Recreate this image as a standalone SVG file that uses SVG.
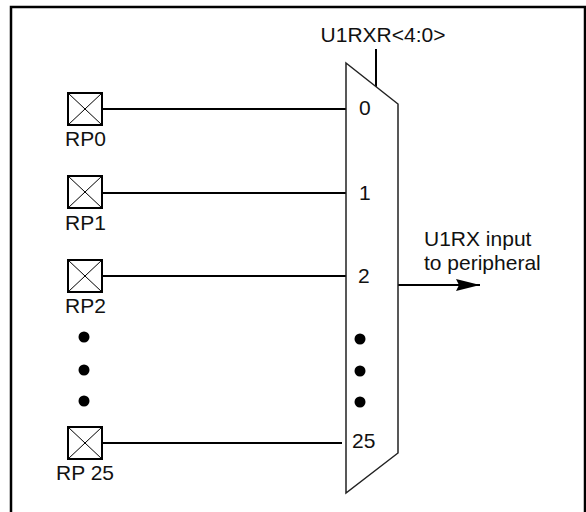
<svg xmlns="http://www.w3.org/2000/svg" width="586" height="512" viewBox="0 0 586 512">
  <style>
    text { font-family: "Liberation Sans", Arial, sans-serif; font-size: 21px; fill: #111; }
    .pad { fill: #fff; stroke: #000; stroke-width: 2; }
    .x { stroke: #000; stroke-width: 1; fill: none; }
    .wire { stroke: #000; stroke-width: 2; fill: none; }
    .mux { fill: #fff; stroke: #222; stroke-width: 1.5; }
    .dot { fill: #000; }
  </style>
  <defs>
    <marker id="arrow" markerUnits="userSpaceOnUse" markerWidth="26" markerHeight="14" refX="24" refY="7" orient="auto">
      <path d="M0,1 L24,7 L0,13 L3,7 Z" fill="#000"/>
    </marker>
  </defs>
  <rect x="11" y="7" width="574" height="512" fill="#fff" stroke="#000" stroke-width="2.5"/>

  <g id="connectors">
    <line class="wire" x1="102" y1="109" x2="346" y2="109"/>
    <line class="wire" x1="102" y1="193" x2="346" y2="193"/>
    <line class="wire" x1="102" y1="276" x2="346" y2="276"/>
    <line class="wire" x1="102" y1="443" x2="342" y2="443"/>
    <line class="wire" x1="376" y1="49" x2="376" y2="87"/>
    <line class="wire" x1="398" y1="285" x2="480" y2="285" marker-end="url(#arrow)"/>
  </g>

  <g id="mux">
    <path class="mux" d="M346,63 L398,104 L398,453 L346,493 Z"/>
    <text x="359" y="115">0</text>
    <text x="359" y="200">1</text>
    <text x="358" y="283">2</text>
    <text x="352" y="448">25</text>
    <circle class="dot" cx="360" cy="339" r="5.5"/>
    <circle class="dot" cx="360" cy="371" r="5.5"/>
    <circle class="dot" cx="360" cy="402" r="5.5"/>
  </g>

  <g id="select-label">
    <text x="383" y="42" text-anchor="middle">U1RXR&lt;4:0&gt;</text>
  </g>

  <g id="output-label">
    <text x="424" y="246">U1RX input</text>
    <text x="424" y="270">to peripheral</text>
  </g>

  <g id="rp0">
    <rect class="pad" x="68" y="93" width="34" height="32"/>
    <path class="x" d="M68,93 L102,125 M102,93 L68,125"/>
    <text x="65" y="146">RP0</text>
  </g>
  <g id="rp1">
    <rect class="pad" x="68" y="176" width="34" height="32"/>
    <path class="x" d="M68,176 L102,208 M102,176 L68,208"/>
    <text x="65" y="230">RP1</text>
  </g>
  <g id="rp2">
    <rect class="pad" x="68" y="260" width="34" height="32"/>
    <path class="x" d="M68,260 L102,292 M102,260 L68,292"/>
    <text x="65" y="313">RP2</text>
  </g>
  <g id="dots-left">
    <circle class="dot" cx="84" cy="337" r="5.5"/>
    <circle class="dot" cx="84" cy="370" r="5.5"/>
    <circle class="dot" cx="84" cy="401" r="5.5"/>
  </g>
  <g id="rp25">
    <rect class="pad" x="68" y="427" width="34" height="32"/>
    <path class="x" d="M68,427 L102,459 M102,427 L68,459"/>
    <text x="56" y="480">RP 25</text>
  </g>
</svg>
